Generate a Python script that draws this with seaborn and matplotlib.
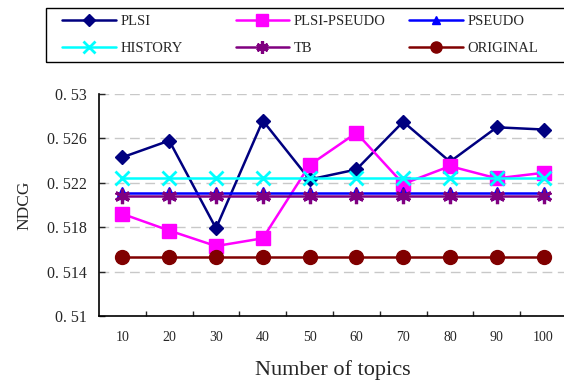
import numpy as np
import pandas as pd
import matplotlib
matplotlib.use("Agg")
import matplotlib.pyplot as plt
from matplotlib.patches import Rectangle
import seaborn as sns

# values
topics = ["10", "20", "30", "40", "50", "60", "70", "80", "90", "100"]
plsi = [0.5243, 0.5258, 0.5179, 0.5276, 0.5223, 0.5232, 0.5275, 0.5239, 0.5270, 0.5268]
plsi_pseudo = [0.5192, 0.5177, 0.5163, 0.5170, 0.5236, 0.5265, 0.5219, 0.5235, 0.5224, 0.5229]
pseudo = [0.5211, 0.5211, 0.5211, 0.5211, 0.5211, 0.5211, 0.5211, 0.5211, 0.5211, 0.5211]
history = [0.5224, 0.5224, 0.5224, 0.5224, 0.5224, 0.5224, 0.5224, 0.5224, 0.5224, 0.5224]
tb = [0.5208, 0.5208, 0.5208, 0.5208, 0.5208, 0.5208, 0.5208, 0.5208, 0.5208, 0.5208]
original = [0.5153, 0.5153, 0.5153, 0.5153, 0.5153, 0.5153, 0.5153, 0.5153, 0.5153, 0.5153]

methods = ["PLSI", "PLSI-PSEUDO", "PSEUDO", "HISTORY", "TB", "ORIGINAL"]
yticks = [0.51, 0.514, 0.518, 0.522, 0.526, 0.53]
ytick_labels = ["0. 51", "0. 514", "0. 518", "0. 522", "0. 526", "0. 53"]

colors = {"PLSI": "#000080", "PLSI-PSEUDO": "#ff00ff", "PSEUDO": "#0000ff",
          "HISTORY": "#00ffff", "TB": "#800080", "ORIGINAL": "#800000"}
# marker, size, edge width
styles = {"PLSI": ("D", 7.5, 1.0), "PLSI-PSEUDO": ("s", 10, 1.0),
          "PSEUDO": ("^", 8, 1.0), "HISTORY": ("x", 10.5, 2.0),
          "TB": ((6, 2, 0), 11, 2.3), "ORIGINAL": ("o", 10, 1.0)}

series = [plsi, plsi_pseudo, pseudo, history, tb, original]
df = pd.concat([pd.DataFrame({"topics": topics, "ndcg": vals, "method": m})
                for m, vals in zip(methods, series)], ignore_index=True)

sns.set_style("white")
plt.rcParams["font.family"] = ["Liberation Serif", "DejaVu Serif"]

fig = plt.figure(figsize=(5.64, 3.85), dpi=100)
ax = fig.add_axes([99 / 564, 1 - 316 / 385, 468 / 564, 222 / 385])

sns.pointplot(data=df, x="topics", y="ndcg", hue="method", order=topics,
              hue_order=methods, palette=colors, markers="o", linestyles="-",
              errorbar=None, linewidth=1.8, legend=False, ax=ax)

lines = ax.lines[:len(methods)]
for ln, m in zip(lines, methods):
    mk, ms, mew = styles[m]
    ln.set_marker(mk)
    ln.set_markersize(ms)
    ln.set_markeredgewidth(mew)
    ln.set_color(colors[m])
    ln.set_markerfacecolor(colors[m])
    ln.set_markeredgecolor(colors[m])

ax.set_ylim(0.51, 0.53)
ax.set_xlim(-0.5, len(topics) - 0.5)
ax.set_yticks(yticks)
ax.set_yticklabels(ytick_labels, fontsize=11.5)
ax.tick_params(axis="y", direction="in", length=4.5, width=1, pad=9, left=True)
ax.tick_params(axis="x", which="major", length=0, pad=10.5, labelsize=10)
ax.set_xticks(np.arange(0.5, len(topics) - 1, 1), minor=True)
ax.tick_params(axis="x", which="minor", direction="in", length=3.5, width=1, bottom=True)

ax.yaxis.grid(True, color="#c8c8c8", linestyle=(0, (7, 4)), linewidth=1)
ax.xaxis.grid(False)
ax.set_axisbelow(True)
for s in ["top", "right"]:
    ax.spines[s].set_visible(False)
for s in ["left", "bottom"]:
    ax.spines[s].set_color("black")
    ax.spines[s].set_linewidth(1.2)

ax.set_xlabel("Number of topics", fontsize=16)
ax.set_ylabel("NDCG", fontsize=12.5)
ax.xaxis.set_label_coords(0.5, -0.2)
ax.yaxis.set_label_coords(-0.143, 0.5)

# legend: three fixed-width columns like the original, one legend per column
for j in range(3):
    fig.legend([lines[j], lines[j + 3]], [methods[j], methods[j + 3]],
               loc="upper left", bbox_to_anchor=((62 + 173.5 * j) / 564, 1 - 15 / 385),
               frameon=False, borderpad=0, borderaxespad=0, handlelength=3.7,
               handletextpad=0.3, labelspacing=0.95, markerscale=0.8,
               fontsize=10.5)
fig.add_artist(Rectangle((45.7 / 564, 1 - 61.7 / 385), 0.95, 53.4 / 385,
                         transform=fig.transFigure, fill=False,
                         edgecolor="black", linewidth=1))

fig.savefig("out.png", dpi=100)
